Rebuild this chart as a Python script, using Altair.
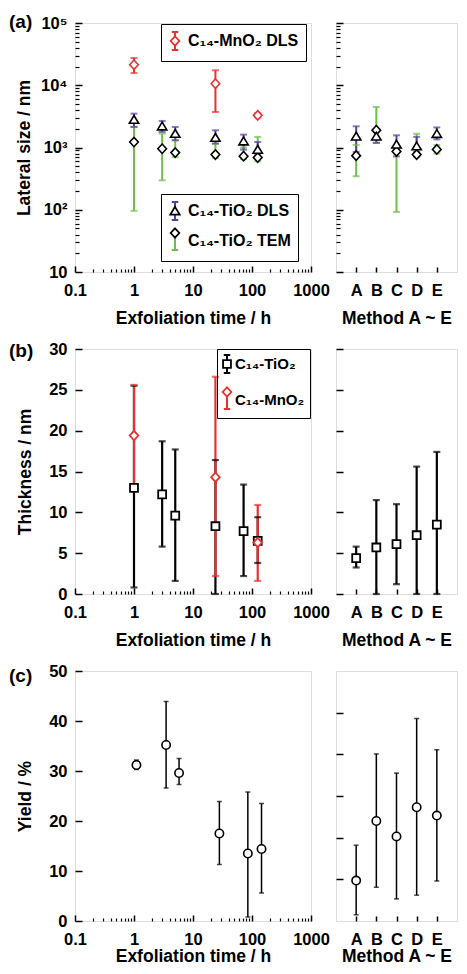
import altair as alt
import pandas as pd

FONT = "Liberation Sans"
RED = "#e8322e"
PURPLE = "#5b3ea3"
GREEN = "#6fc04a"
BLACK = "#000000"

# ---------------- data ----------------
# (a) lateral size vs exfoliation time
a_time = [1, 3, 5, 24, 72, 125]
a_dls = [2800, 2190, 1670, 1440, 1260, 925]
a_dls_lo = [2140, 1780, 1310, 1160, 925, 795]
a_dls_hi = [3500, 2670, 2140, 1890, 1610, 1225]
a_tem = [1225, 955, 828, 770, 725, 690]
a_tem_lo = [96, 297, 700, 680, 650, 600]
a_tem_hi = [2140, 1670, 1300, 1150, 1000, 1480]
a_mn_time = [1, 24, 125]
a_mn = [21400, 10600, 3290]
a_mn_lo = [15700, 3720, 3050]
a_mn_hi = [27400, 17400, 3550]
# (a) methods A-E
methods = ["A", "B", "C", "D", "E"]
am_dls = [1510, 1510, 1120, 1050, 1660]
am_dls_lo = [850, 1180, 720, 850, 1350]
am_dls_hi = [2190, 1800, 1570, 1480, 2100]
am_tem = [740, 1900, 865, 770, 930]
am_tem_lo = [345, 1200, 92, 700, 800]
am_tem_hi = [1100, 4470, 1000, 1660, 1100]
# (b) thickness
b_time = [1, 3, 5, 24, 72, 125]
b_ti = [13.0, 12.2, 9.6, 8.3, 7.7, 6.5]
b_ti_lo = [0.8, 5.8, 1.6, 0.0, 2.2, 3.8]
b_ti_hi = [25.5, 18.7, 17.7, 16.4, 13.4, 9.4]
b_mn_time = [1, 24, 125]
b_mn = [19.4, 14.3, 6.3]
b_mn_lo = [13.2, 2.2, 1.6]
b_mn_hi = [25.6, 26.6, 10.9]
bm_ti = [4.4, 5.7, 6.1, 7.2, 8.5]
bm_ti_lo = [3.25, 0.0, 1.2, 0.0, 0.0]
bm_ti_hi = [5.8, 11.5, 11.0, 15.6, 17.4]
# (c) yield
c_time = [1.1, 3.5, 5.8, 28, 85, 145]
c_y = [31.2, 35.2, 29.6, 17.5, 13.5, 14.4]
c_lo = [30.3, 26.6, 27.3, 11.3, 0.8, 5.6]
c_hi = [32.2, 43.9, 32.5, 23.9, 25.8, 23.5]
cm_y = [9.7, 24.0, 20.3, 27.3, 25.3]
cm_lo = [1.5, 8.1, 5.3, 6.2, 9.6]
cm_hi = [18.2, 40.1, 35.5, 48.6, 41.1]

# series names
TI_DLS = "C₁₄-TiO₂ DLS"
TI_TEM = "C₁₄-TiO₂ TEM"
MN_DLS = "C₁₄-MnO₂ DLS"
TI = "C₁₄-TiO₂"
MN = "C₁₄-MnO₂"
panel_labels = ["(a)", "(b)", "(c)"]

# tick values / labels
x_major = [0.1, 1, 10, 100, 1000]
x_minor = [m * d for d in [0.1, 1, 10, 100] for m in range(2, 10)]
a_y_major = [10, 100, 1000, 10000, 100000]
a_y_minor = [m * d for d in [10, 100, 1000, 10000] for m in range(2, 10)]
a_y_labels = ["10", "10²", "10³", "10⁴", "10⁵"]
b_y_major = [0, 5, 10, 15, 20, 25, 30]
c_y_major = [0, 10, 20, 30, 40, 50]

# symbol paths (unit coords, scaled by sqrt(size)/2)
IBEAM = "M0,-1L0,1M-0.36,-1L0.36,-1M-0.36,1L0.36,1"
TRI = "M0,-0.46L0.52,0.4L-0.52,0.4Z"
DIA = "M0,-0.52L0.48,0L0,0.52L-0.48,0Z"
SQ = "M-0.44,-0.44L0.44,-0.44L0.44,0.44L-0.44,0.44Z"
SYM = 324

LAB_FS = 16.5
TIT_FS = 17.5

# ---------------- helpers ----------------
def label_expr(vals, labels):
    e = "''"
    for v, l in zip(vals, labels):
        e = f"datum.value == {v} ? '{l}' : " + e
    return e


def num(v):
    return v if v >= 0 else {"expr": str(v)}


def axis(orient, values=None, title=None, tick=6, labels=True, width=1.5,
         lpad=10, tpad=11, lexpr=None, fmt=None):
    kw = dict(orient=orient, tickSize=tick, offset=-tick, tickWidth=width,
              tickColor="black", domain=False, grid=False, labels=labels,
              labelFont=FONT, labelFontSize=LAB_FS, labelFontWeight="bold",
              labelColor="black", labelPadding=lpad, labelOverlap=False,
              labelFlush=False, titleFont=FONT, titleFontSize=TIT_FS,
              titleFontWeight="bold", titleColor="black", titlePadding=tpad,
              title=title, labelAngle=0)
    if values is not None:
        kw["values"] = values
    if lexpr is not None:
        kw["labelExpr"] = lexpr
    if fmt is not None:
        kw["format"] = fmt
    return alt.Axis(**kw)


def leg_err(x, y, fs=16, rp=4, pad=7, so=-3, lo=3):
    return alt.Legend(orient="none", legendX=x, legendY=y, title=None,
                      symbolType=IBEAM, symbolSize=SYM, symbolStrokeWidth=2,
                      symbolFillColor="transparent", padding=pad,
                      strokeColor="black", symbolOffset=num(so),
                      labelFont=FONT, labelFontSize=fs, labelFontWeight="bold",
                      labelColor="black", labelOffset=num(lo), rowPadding=rp, zindex=1)


def leg_mk(x, y, fs=16, rp=4, pad=7, so=-3, lo=3):
    return alt.Legend(orient="none", legendX=x, legendY=y, title=None,
                      symbolSize=SYM, symbolStrokeWidth=1.8, symbolFillColor="white",
                      padding=pad, symbolOffset=num(so), labelFont=FONT, labelFontSize=fs,
                      labelFontWeight="bold", labelOpacity=0, labelOffset=num(lo),
                      rowPadding=rp, zindex=2)


xs_log = alt.Scale(type="log", domain=[0.1, 1000], nice=False)
xs_m = alt.Scale(type="point", domain=methods, padding=1)
ys_a = alt.Scale(type="log", domain=[10, 100000], nice=False)
ys_b = alt.Scale(domain=[0, 30], nice=False)
ys_c = alt.Scale(domain=[0, 50], nice=False)
ys_cm = alt.Scale(domain=[0, 60], nice=False)

XMAJ = axis("bottom", x_major, "Exfoliation time / h", tick=6, fmt="~g")
XMAJ_C = axis("bottom", x_major, "Exfoliation time / h", tick=6, fmt="~g", tpad=0)
XMIN = axis("bottom", x_minor, None, tick=3, labels=False, width=1.2)
XM = axis("bottom", None, "Method A ~ E", tick=5)
XM_C = axis("bottom", None, "Method A ~ E", tick=5, tpad=0)


def xlog(field, ax=None):
    return alt.X(f"{field}:Q", scale=xs_log, axis=ax)


def xm(ax=None):
    return alt.X("m:N", scale=xs_m, axis=ax)


def panel_label(text, dy):
    return alt.Chart(pd.DataFrame({"lab": [text]})).mark_text(
        align="left", baseline="middle", font=FONT, fontSize=19,
        fontWeight="bold", color="black").encode(
        x=alt.value(-66), y=alt.value(dy), text="lab:N")


def finish(layer, w, h):
    return layer.resolve_scale(color="independent", shape="independent").resolve_axis(
        x="independent", y="independent").properties(width=w, height=h)


W_L, W_R = 236, 121
H_A, H_B, H_C = 249, 245, 250

# ---------------- (a) ----------------
err_ti_a = pd.DataFrame({"t": a_time + a_time, "lo": a_tem_lo + a_dls_lo,
                         "hi": a_tem_hi + a_dls_hi,
                         "s": [TI_TEM] * len(a_time) + [TI_DLS] * len(a_time)})
mk_ti_a = pd.DataFrame({"t": a_time + a_time, "v": a_tem + a_dls,
                        "s": [TI_TEM] * len(a_time) + [TI_DLS] * len(a_time)})
err_mn_a = pd.DataFrame({"t": a_mn_time, "lo": a_mn_lo, "hi": a_mn_hi,
                         "s": [MN_DLS] * len(a_mn_time)})
mk_mn_a = pd.DataFrame({"t": a_mn_time, "v": a_mn, "s": [MN_DLS] * len(a_mn_time)})

ti_col = alt.Scale(domain=[TI_DLS, TI_TEM], range=[PURPLE, GREEN])
ti_mk_col = alt.Scale(domain=[TI_DLS, TI_TEM], range=[BLACK, BLACK])
ti_shp = alt.Scale(domain=[TI_DLS, TI_TEM], range=[TRI, DIA])
mn_col = alt.Scale(domain=[MN_DLS], range=[RED])
mn_shp = alt.Scale(domain=[MN_DLS], range=[DIA])

YA = axis("left", a_y_major, "Lateral size / nm", tick=7, lpad=8, tpad=7,
          lexpr=label_expr(a_y_major, a_y_labels))
YA_MIN = axis("left", a_y_minor, None, tick=4, labels=False, width=1.2)
YA_R = axis("left", a_y_major, None, tick=7, labels=False)


def a_layers(df_err, df_mk, df_err_mn, df_mk_mn, xf, xmaj, xmin, ymaj, ymin, legends):
    r1 = alt.Chart(df_err).mark_rule(strokeWidth=2).encode(
        x=xf(xmaj), y=alt.Y("lo:Q", scale=ys_a, axis=ymaj), y2="hi:Q",
        color=alt.Color("s:N", scale=ti_col, legend=legends[0]))
    c1 = alt.Chart(df_err).transform_fold(["lo", "hi"], as_=["k", "cap"]).mark_tick(
        orient="horizontal", size=7, thickness=2).encode(
        x=xf(xmin), y=alt.Y("cap:Q", scale=ys_a, axis=ymin),
        color=alt.Color("s:N", scale=ti_col, legend=None))
    layers = [r1, c1]
    if df_err_mn is not None:
        r2 = alt.Chart(df_err_mn).mark_rule(strokeWidth=2).encode(
            x=xf(None), y=alt.Y("lo:Q", scale=ys_a, axis=None), y2="hi:Q",
            color=alt.Color("s:N", scale=mn_col, legend=legends[1]))
        c2 = alt.Chart(df_err_mn).transform_fold(["lo", "hi"], as_=["k", "cap"]).mark_tick(
            orient="horizontal", size=7, thickness=2).encode(
            x=xf(None), y=alt.Y("cap:Q", scale=ys_a, axis=None),
            color=alt.Color("s:N", scale=mn_col, legend=None))
        layers += [r2, c2]
    m1 = alt.Chart(df_mk).mark_point(filled=False, fill="white",
                                     strokeWidth=1.6, opacity=1, size=SYM).encode(
        x=xf(None), y=alt.Y("v:Q", scale=ys_a, axis=None),
        color=alt.Color("s:N", scale=ti_mk_col, legend=legends[2]),
        shape=alt.Shape("s:N", scale=ti_shp, legend=legends[2]))
    layers.append(m1)
    if df_mk_mn is not None:
        m2 = alt.Chart(df_mk_mn).mark_point(filled=False, fill="white",
                                            strokeWidth=1.6, opacity=1, size=SYM).encode(
            x=xf(None), y=alt.Y("v:Q", scale=ys_a, axis=None),
            color=alt.Color("s:N", scale=mn_col, legend=legends[3]),
            shape=alt.Shape("s:N", scale=mn_shp, legend=legends[3]))
        layers.append(m2)
    return layers


def xlog_t(ax):
    return xlog("t", ax)


left_a = finish(alt.layer(*a_layers(
    err_ti_a, mk_ti_a, err_mn_a, mk_mn_a, xlog_t, XMAJ, XMIN, YA, YA_MIN,
    [leg_err(86, 171), leg_err(86, 1), leg_mk(86, 171), leg_mk(86, 1)]) +
    [panel_label(panel_labels[0], -1)]), W_L, H_A)

err_m_a = pd.DataFrame({"m": methods + methods, "lo": am_tem_lo + am_dls_lo,
                        "hi": am_tem_hi + am_dls_hi,
                        "s": [TI_TEM] * 5 + [TI_DLS] * 5})
mk_m_a = pd.DataFrame({"m": methods + methods, "v": am_tem + am_dls,
                       "s": [TI_TEM] * 5 + [TI_DLS] * 5})

right_a = finish(alt.layer(*a_layers(
    err_m_a, mk_m_a, None, None, xm, XM, None, YA_R, YA_MIN,
    [None, None, None, None])), W_R, H_A)

# ---------------- (b) ----------------
b_col = alt.Scale(domain=[TI, MN], range=[BLACK, RED])
b_shp = alt.Scale(domain=[TI, MN], range=[SQ, DIA])
YB = axis("left", b_y_major, "Thickness / nm", tick=7, lpad=8, tpad=14)
YB_R = axis("left", b_y_major, None, tick=7, labels=False)

err_b = pd.DataFrame({"t": b_time + b_mn_time, "lo": b_ti_lo + b_mn_lo,
                      "hi": b_ti_hi + b_mn_hi,
                      "s": [TI] * len(b_time) + [MN] * len(b_mn_time)})
mk_b = pd.DataFrame({"t": b_time + b_mn_time, "v": b_ti + b_mn,
                     "s": [TI] * len(b_time) + [MN] * len(b_mn_time)})
err_bm = pd.DataFrame({"m": methods, "lo": bm_ti_lo, "hi": bm_ti_hi, "s": [TI] * 5})
mk_bm = pd.DataFrame({"m": methods, "v": bm_ti, "s": [TI] * 5})


def b_layers(df_err, df_mk, xf, xmaj, xmin, ymaj, legs):
    r = alt.Chart(df_err).mark_rule(strokeWidth=2.2).encode(
        x=xf(xmaj), y=alt.Y("lo:Q", scale=ys_b, axis=ymaj), y2="hi:Q",
        color=alt.Color("s:N", scale=b_col, legend=legs[0]))
    c = alt.Chart(df_err).transform_fold(["lo", "hi"], as_=["k", "cap"]).mark_tick(
        orient="horizontal", size=7, thickness=2.2).encode(
        x=xf(xmin), y=alt.Y("cap:Q", scale=ys_b, axis=None),
        color=alt.Color("s:N", scale=b_col, legend=None))
    m = alt.Chart(df_mk).mark_point(filled=False, fill="white", strokeWidth=1.8,
                                    opacity=1, size=SYM).encode(
        x=xf(None), y=alt.Y("v:Q", scale=ys_b, axis=None),
        color=alt.Color("s:N", scale=b_col, legend=legs[1]),
        shape=alt.Shape("s:N", scale=b_shp, legend=legs[1]))
    return [r, c, m]


left_b = finish(alt.layer(*b_layers(
    err_b, mk_b, xlog_t, XMAJ, XMIN, YB,
    [leg_err(142, 0, fs=15, rp=10, pad=5, so=-5, lo=-2),
     leg_mk(142, 0, fs=15, rp=10, pad=5, so=-5, lo=-2)]) +
    [panel_label(panel_labels[1], 2)]), W_L, H_B)
right_b = finish(alt.layer(*b_layers(
    err_bm, mk_bm, xm, XM, None, YB_R, [None, None])), W_R, H_B)

# ---------------- (c) ----------------
YC = axis("left", c_y_major, "Yield / %", tick=7, lpad=8, tpad=14)
YC_R = axis("left", c_y_major[1:], None, tick=7, labels=False)

err_c = pd.DataFrame({"t": c_time, "lo": c_lo, "hi": c_hi})
mk_c = pd.DataFrame({"t": c_time, "v": c_y})
err_cm = pd.DataFrame({"m": methods, "lo": cm_lo, "hi": cm_hi})
mk_cm = pd.DataFrame({"m": methods, "v": cm_y})


def c_layers(df_err, df_mk, xf, xmaj, xmin, ymaj, ysc):
    r = alt.Chart(df_err).mark_rule(strokeWidth=1.5, color="black").encode(
        x=xf(xmaj), y=alt.Y("lo:Q", scale=ysc, axis=ymaj), y2="hi:Q")
    c = alt.Chart(df_err).transform_fold(["lo", "hi"], as_=["k", "cap"]).mark_tick(
        orient="horizontal", size=5, thickness=1.5, color="black").encode(
        x=xf(xmin), y=alt.Y("cap:Q", scale=ysc, axis=None))
    m = alt.Chart(df_mk).mark_point(shape="circle", filled=False, fill="white",
                                    stroke="black", strokeWidth=1.6, opacity=1,
                                    size=70).encode(
        x=xf(None), y=alt.Y("v:Q", scale=ysc, axis=None))
    return [r, c, m]


left_c = finish(alt.layer(*c_layers(err_c, mk_c, xlog_t, XMAJ_C, XMIN, YC, ys_c) +
                          [panel_label(panel_labels[2], 5)]), W_L, H_C)
right_c = finish(alt.layer(*c_layers(err_cm, mk_cm, xm, XM_C, None, YC_R, ys_cm)),
                 W_R, H_C)

chart = alt.concat(left_a, right_a, left_b, right_b, left_c, right_c, columns=2,
                   spacing={"row": 77, "column": 25}, bounds="flush").resolve_scale(
    x="independent", y="independent").properties(
    padding={"left": 0, "top": 4, "right": 0, "bottom": 0}).configure_view(
    stroke="black", strokeWidth=2.5).configure(background="white")

chart.save("out.html", embed_options={"renderer": "svg", "actions": False})
